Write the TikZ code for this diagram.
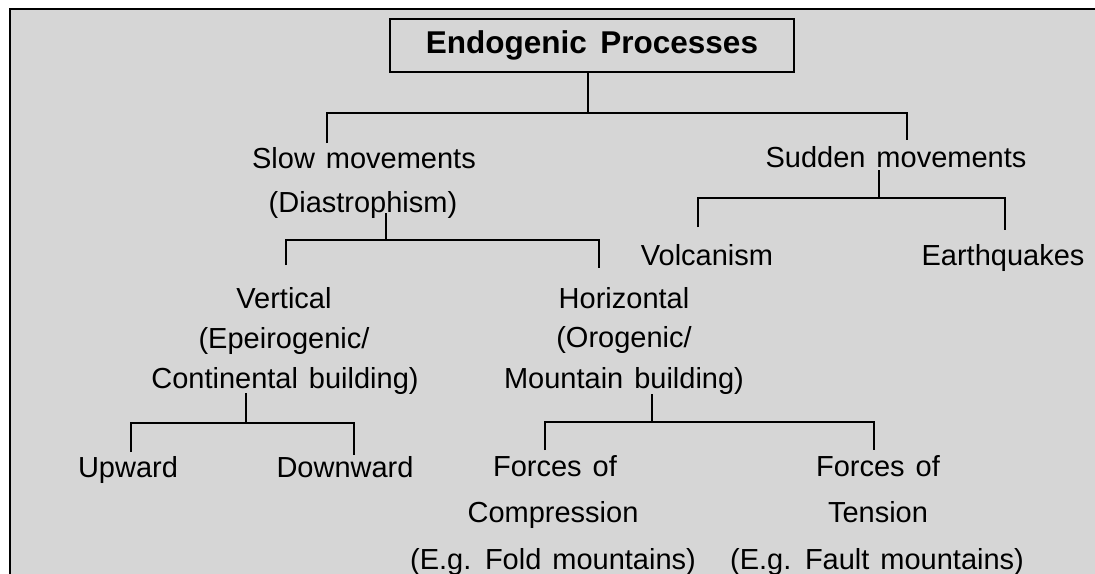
\documentclass[tikz,border=0pt]{standalone}
\usepackage{fontspec}
\setmainfont{Liberation Sans}
\definecolor{panelgray}{RGB}{214,214,214}
\begin{document}
\begin{tikzpicture}[x=1pt,y=-1pt,
  lbl/.style={anchor=base,inner sep=0pt,font=\fontsize{29}{35}\selectfont},
  conn/.style={line width=2pt,line join=miter},
  rootbox/.style={draw,line width=2pt,minimum width=404pt,minimum height=53pt,inner sep=0pt,font=\fontsize{31.5}{36}\selectfont\bfseries}]
\useasboundingbox (0,0) rectangle (1095,573);
% panel
\fill[panelgray] (10,9) rectangle (1110,590);
\draw[line width=2.5pt] (10,590) -- (10,9) -- (1110,9);

% root
\node[rootbox] (root) at (592,45.5) {Endogenic\hspace{0.15em} Processes};

% level 1
\node[lbl] (slow1) at (364,168) {Slow\hspace{0.1em} movements};
\node[lbl] (slow2) at (363,212) {(Diastrophism)};
\node[lbl] (sudden) at (896,167) {Sudden\hspace{0.1em} movements};

% level 2
\node[lbl] (vert1) at (284,308) {Vertical};
\node[lbl] (vert2) at (284,348) {(Epeirogenic/};
\node[lbl] (vert3) at (285,388) {Continental\hspace{0.1em} building)};
\node[lbl] (hor1) at (624,308) {Horizontal};
\node[lbl] (hor2) at (624,347) {(Orogenic/};
\node[lbl] (hor3) at (624,388) {Mountain\hspace{0.1em} building)};
\node[lbl] (volc) at (707,265) {Volcanism};
\node[lbl] (earth) at (1003,265) {Earthquakes};

% level 3
\node[lbl] (up) at (128,477) {Upward};
\node[lbl] (down) at (345,477) {Downward};
\node[lbl] (comp1) at (555,476) {Forces\hspace{0.1em} of};
\node[lbl] (comp2) at (553,522) {Compression};
\node[lbl] (comp3) at (553,569) {(E.g.\hspace{0.1em} Fold\hspace{0.1em} mountains)};
\node[lbl] (tens1) at (878,476) {Forces\hspace{0.1em} of};
\node[lbl] (tens2) at (878,522) {Tension};
\node[lbl] (tens3) at (877,569) {(E.g.\hspace{0.1em} Fault\hspace{0.1em} mountains)};

% junctions and drop ends
\coordinate (j0) at (588,113);
\coordinate (d0l) at (327,143);
\coordinate (d0r) at (907,140);

\coordinate (s0) at (386,213);
\coordinate (j1) at (386,240);
\coordinate (d1l) at (286,265);
\coordinate (d1r) at (599,268);

\coordinate (s2) at (879,170);
\coordinate (j2) at (879,198);
\coordinate (d2l) at (698,227);
\coordinate (d2r) at (1005,230);

\coordinate (s3) at (246,393);
\coordinate (j3) at (246,423);
\coordinate (d3l) at (131,452);
\coordinate (d3r) at (354,455);

\coordinate (s4) at (652,394);
\coordinate (j4) at (652,422);
\coordinate (d4l) at (545,450);
\coordinate (d4r) at (874,450);

% connectors
\draw[conn] (root.south -| j0) -- (j0);
\draw[conn] (d0l) |- (j0) -| (d0r);

\draw[conn] (s0) -- (j1);
\draw[conn] (d1l) |- (j1) -| (d1r);

\draw[conn] (s2) -- (j2);
\draw[conn] (d2l) |- (j2) -| (d2r);

\draw[conn] (s3) -- (j3);
\draw[conn] (d3l) |- (j3) -| (d3r);

\draw[conn] (s4) -- (j4);
\draw[conn] (d4l) |- (j4) -| (d4r);
\end{tikzpicture}
\end{document}
